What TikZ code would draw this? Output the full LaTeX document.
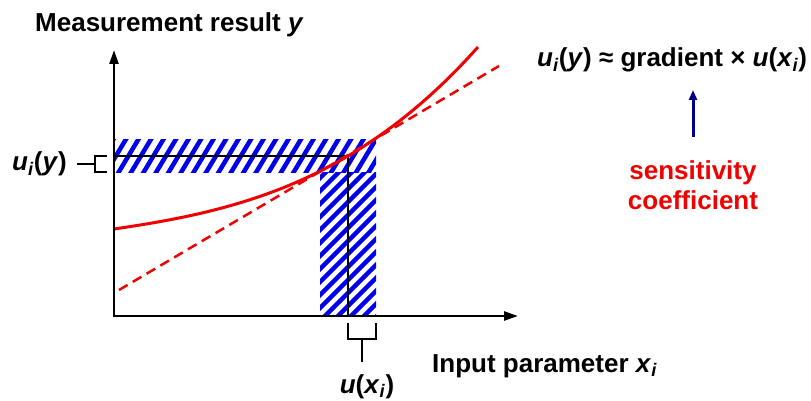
\documentclass[tikz,border=0pt]{standalone}
\usepackage{fontspec}
\setmainfont{Liberation Sans}
\usetikzlibrary{arrows.meta}
\definecolor{hatchblue}{RGB}{0,0,235}
\definecolor{curvered}{RGB}{240,0,0}
\definecolor{arrownavy}{RGB}{0,0,140}
\tikzset{
  lbl/.style={font=\fontsize{26}{30}\selectfont\bfseries, inner sep=0pt},
  redlbl/.style={lbl, text=curvered},
  axis/.style={line width=2.5pt, -{Triangle[length=14pt,width=9pt]}},
  guide/.style={line width=2pt, black},
  brack/.style={line width=1.5pt, black},
  stripe/.style={line width=4.5pt, hatchblue},
  curve/.style={line width=3pt, curvered},
  tangent/.style={line width=2.5pt, curvered, dash pattern=on 10pt off 6pt},
}
\newcommand{\vi}[1]{\textit{#1}}
\begin{document}
\begin{tikzpicture}[x=1pt,y=-1pt]
\useasboundingbox (0,0) rectangle (811,401);
% key coordinates
\coordinate (O) at (114,316);
\coordinate (Ytop) at (114,50);
\coordinate (Xend) at (518,316);
\coordinate (P) at (348,156);
\coordinate (Py) at (114,156);
\coordinate (Px) at (348,316);
% hatched bands
\begin{scope}
  \clip (114,140) rectangle (376,172);
  \foreach \k in {-4,...,24} {
    \draw[stripe] (114+\k*12.5,180) -- ++(0.6*50,-50);
  }
\end{scope}
\begin{scope}
  \clip (320,172) rectangle (376,316);
  \foreach \k in {-6,...,20} {
    \draw[stripe] (300,172+\k*13) -- ++(90,-90);
  }
\end{scope}
% guide lines
\draw[guide] (Py) -- (P) -- (Px);
% tangent and curve
\coordinate (T1) at (119,290);
\coordinate (T2) at (499,66);
\draw[tangent] (T1) -- (T2);
\draw[curve] plot[domain=0:3.64, samples=60, smooth]
  ({114+100*\x}, {229 - 14.55*\x - 2.39*\x*\x - 2.019*\x*\x*\x});
% axes
\draw[axis] ([xshift=-1.25pt]O) -- (Xend);
\draw[axis] ([yshift=1.25pt]O) -- (Ytop);
% brackets
\coordinate (Lb1) at (107,156);
\coordinate (Lb2) at (95,156);
\coordinate (Lb3) at (95,172);
\coordinate (Lb4) at (107,172);
\coordinate (Lstem) at (77,164);
\draw[brack] (Lb1) -- (Lb2) -- (Lb3) -- (Lb4);
\draw[brack] (Lstem) -- (95,164);
\coordinate (Bb1) at (348,323);
\coordinate (Bb2) at (348,339);
\coordinate (Bb3) at (376,339);
\coordinate (Bb4) at (376,323);
\coordinate (Bstem) at (362,362);
\draw[brack] (Bb1) -- (Bb2) -- (Bb3) -- (Bb4);
\draw[brack] (362,339) -- (Bstem);
% labels
\node[lbl, anchor=base west] (ylab) at (35,32) {Measurement result \vi{y}};
\node[lbl, anchor=base west] (xlab) at (432,372) {Input parameter \vi{x}\textsubscript{\vi{i}}};
\node[lbl, anchor=base east] (uy) at (67,171) {\vi{u}\textsubscript{\vi{i}}(\vi{y})};
\node[lbl, anchor=base] (ux) at (367,393) {\vi{u}(\vi{x}\textsubscript{\vi{i}})};
\node[lbl, anchor=base west] (formula) at (537,67) {\vi{u}\textsubscript{\vi{i}}(\vi{y}) ≈ gradient × \vi{u}(\vi{x}\textsubscript{\vi{i}})};
\node[redlbl, anchor=base] (sens1) at (693,179) {sensitivity};
\node[redlbl, anchor=base] (sens2) at (693,209) {coefficient};
% arrow
\coordinate (As) at (693,137);
\coordinate (Ae) at (693,90);
\draw[line width=3pt, arrownavy, -{Triangle[length=10pt,width=8pt]}] (As) -- (Ae);
\end{tikzpicture}
\end{document}
